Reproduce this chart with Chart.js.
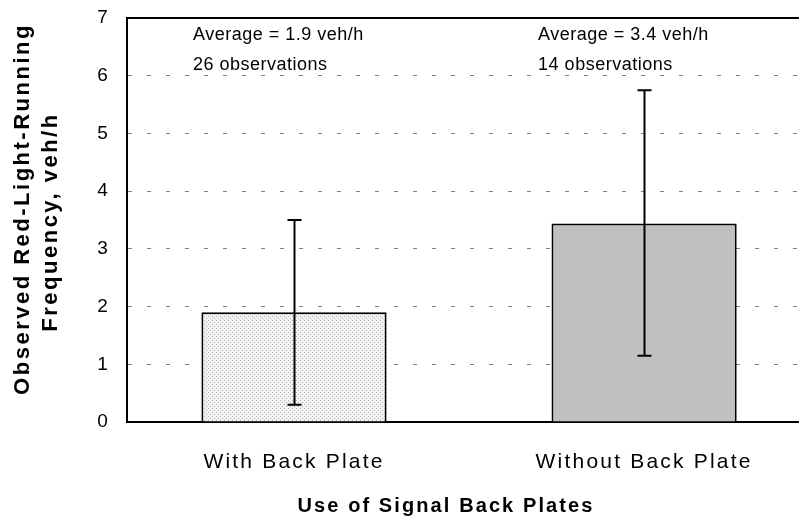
<!DOCTYPE html>
<html>
<head>
<meta charset="utf-8">
<script src="https://cdn.jsdelivr.net/npm/chart.js@4"></script>
<style>
  html, body { margin: 0; padding: 0; background: #fff; overflow: hidden; }
  #wrap { width: 830px; height: 521px; }
</style>
</head>
<body>
<div id="wrap"><canvas id="c"></canvas></div>
<script>
// Red-light-running frequency with and without signal back plates
const categories = ['With Back Plate', 'Without Back Plate'];
const averageRate = [1.9, 3.44];      // veh/h
const errorLow = [0.3, 1.15];         // veh/h
const errorHigh = [3.5, 5.75];        // veh/h
const observationCounts = [26, 14];
const yTickValues = [0, 1, 2, 3, 4, 5, 6, 7];

const FONT = "'Liberation Sans', Arial, sans-serif";

// light stippled fill for the first bar
function stipple() {
  const t = document.createElement('canvas');
  t.width = 4; t.height = 4;
  const g = t.getContext('2d');
  g.fillStyle = '#f2f2f2';
  g.fillRect(0, 0, 4, 4);
  g.fillStyle = '#b0b0b0';
  g.fillRect(0, 0, 1, 1);
  g.fillRect(2, 2, 1, 1);
  return g.createPattern(t, 'repeat');
}

const annotationOffsets = [-101, -106];

const extras = {
  id: 'extras',
  beforeDraw(chart) {
    chart.ctx.letterSpacing = '2.2px';
  },
  beforeDatasetsDraw(chart) {
    chart.ctx.letterSpacing = '0px';
  },
  afterDatasetsDraw(chart) {
    const { ctx, chartArea, scales: { y } } = chart;
    const meta = chart.getDatasetMeta(0);
    ctx.save();
    ctx.letterSpacing = '0px';
    // error bars
    ctx.strokeStyle = '#000';
    ctx.lineWidth = 2;
    meta.data.forEach((bar, i) => {
      const x = Math.round(bar.x) + 0.5;
      const yh = y.getPixelForValue(errorHigh[i]);
      const yl = y.getPixelForValue(errorLow[i]);
      ctx.beginPath();
      ctx.moveTo(x, yh); ctx.lineTo(x, yl);
      ctx.moveTo(x - 7, yh); ctx.lineTo(x + 7, yh);
      ctx.moveTo(x - 7, yl); ctx.lineTo(x + 7, yl);
      ctx.stroke();
    });
    // top frame line
    ctx.beginPath();
    ctx.moveTo(chartArea.left - 1, chartArea.top);
    ctx.lineTo(chartArea.right, chartArea.top);
    ctx.stroke();
    // averages and observation counts
    ctx.fillStyle = '#000';
    ctx.font = '18px ' + FONT;
    ctx.letterSpacing = '0.5px';
    ctx.textAlign = 'left';
    ctx.textBaseline = 'middle';
    meta.data.forEach((bar, i) => {
      const x = bar.x + annotationOffsets[i];
      ctx.fillText('Average = ' + averageRate[i].toFixed(1) + ' veh/h', x, chartArea.top + 17);
      ctx.fillText(observationCounts[i] + ' observations', x, chartArea.top + 47);
    });
    // axis titles
    ctx.font = 'bold 20px ' + FONT;
    ctx.textAlign = 'center';
    ctx.letterSpacing = '2.1px';
    ctx.fillText('Use of Signal Back Plates', 446, 506);
    ctx.font = 'bold 22px ' + FONT;
    ctx.letterSpacing = '2.5px';
    [['Observed Red-Light-Running', 23, 209], ['Frequency, veh/h', 51, 222]].forEach(([t, x, cy]) => {
      ctx.save();
      ctx.translate(x, cy);
      ctx.rotate(-Math.PI / 2);
      ctx.fillText(t, 0, 0);
      ctx.restore();
    });
    ctx.restore();
  }
};

new Chart(document.getElementById('c'), {
  type: 'bar',
  data: {
    datasets: [{
      data: averageRate.map((v, i) => ({ x: i, y: v })),
      backgroundColor: [stipple(), '#c0c0c0'],
      borderColor: '#000',
      borderWidth: 2,
      categoryPercentage: 1,
      barPercentage: 0.529
    }]
  },
  options: {
    responsive: true,
    maintainAspectRatio: false,
    devicePixelRatio: 1,
    animation: false,
    layout: { padding: { top: 18, right: 0, left: 0, bottom: 0 } },
    plugins: { legend: { display: false }, tooltip: { enabled: false } },
    scales: {
      x: {
        type: 'linear',
        offset: false,
        min: -0.477,
        max: 1.531,
        afterFit(s) { s.height = 99; s.paddingLeft = 0; s.paddingRight = 0; },
        afterBuildTicks(s) { s.ticks = categories.map((_, i) => ({ value: i })); },
        grid: { display: false, drawTicks: false },
        border: { display: true, color: '#000', width: 2 },
        ticks: {
          autoSkip: false,
          maxRotation: 0,
          padding: 28,
          color: '#000',
          font: { family: FONT, size: 21 },
          callback: v => categories[v]
        }
      },
      y: {
        min: 0,
        max: 7,
        afterFit(s) { s.width = 127; s.paddingTop = 0; s.paddingBottom = 0; },
        afterBuildTicks(s) { s.ticks = yTickValues.map(v => ({ value: v })); },
        grid: { color: '#808080', lineWidth: 1, drawTicks: false },
        border: { display: true, color: '#000', width: 2, dash: [4, 15] },
        ticks: {
          padding: 17,
          color: '#000',
          font: { family: FONT, size: 19 }
        }
      }
    }
  },
  plugins: [extras]
});
</script>
</body>
</html>
